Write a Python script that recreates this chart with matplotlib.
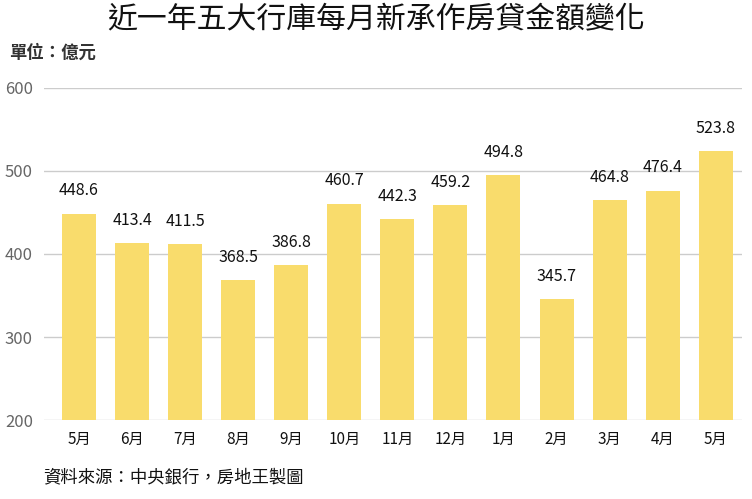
import matplotlib
matplotlib.use('Agg')
import matplotlib.pyplot as plt

plt.rcParams['font.family'] = ['Noto Sans CJK TC', 'DejaVu Sans']

# data
months = ['5月', '6月', '7月', '8月', '9月', '10月', '11月', '12月', '1月', '2月', '3月', '4月', '5月']
values = [448.6, 413.4, 411.5, 368.5, 386.8, 460.7, 442.3, 459.2, 494.8, 345.7, 464.8, 476.4, 523.8]
yticks = [200, 300, 400, 500, 600]

fig = plt.figure(figsize=(7.52, 4.99), dpi=100)
ax = fig.add_axes([0.0585, 0.158, 0.9285, 0.666])

x = range(len(months))
ax.bar(x, values, width=0.64, color='#F9DC6C', zorder=2)

for i, v in zip(x, values):
    ax.text(i, v + 17, f'{v:.1f}', ha='center', va='bottom', fontsize=11.5, color='#111111')

ax.set_ylim(200, 600)
ax.set_xlim(-0.66, 12.5)
ax.set_yticks(yticks)
ax.set_yticklabels([str(t) for t in yticks], fontsize=12, color='#666666')
ax.set_xticks(list(x))
ax.set_xticklabels(months, fontsize=11, color='#111111', fontweight='medium')
ax.grid(axis='y', color='#cccccc', linewidth=1, zorder=0)
for s in ax.spines.values():
    s.set_visible(False)
ax.tick_params(axis='both', length=0)
ax.tick_params(axis='y', pad=8)
ax.tick_params(axis='x', pad=8)

# title and notes
fig.text(0.5, 0.962, '近一年五大行庫每月新承作房貸金額變化', ha='center', va='center', fontsize=21.5, color='#111111', fontweight='medium')
fig.text(0.012, 0.895, '單位：億元', ha='left', va='center', fontsize=12.5, fontweight='bold', color='#333333')
fig.text(0.058, 0.044, '資料來源：中央銀行，房地王製圖', ha='left', va='center', fontsize=12.5, color='#111111')

fig.savefig('out.png', dpi=100)
